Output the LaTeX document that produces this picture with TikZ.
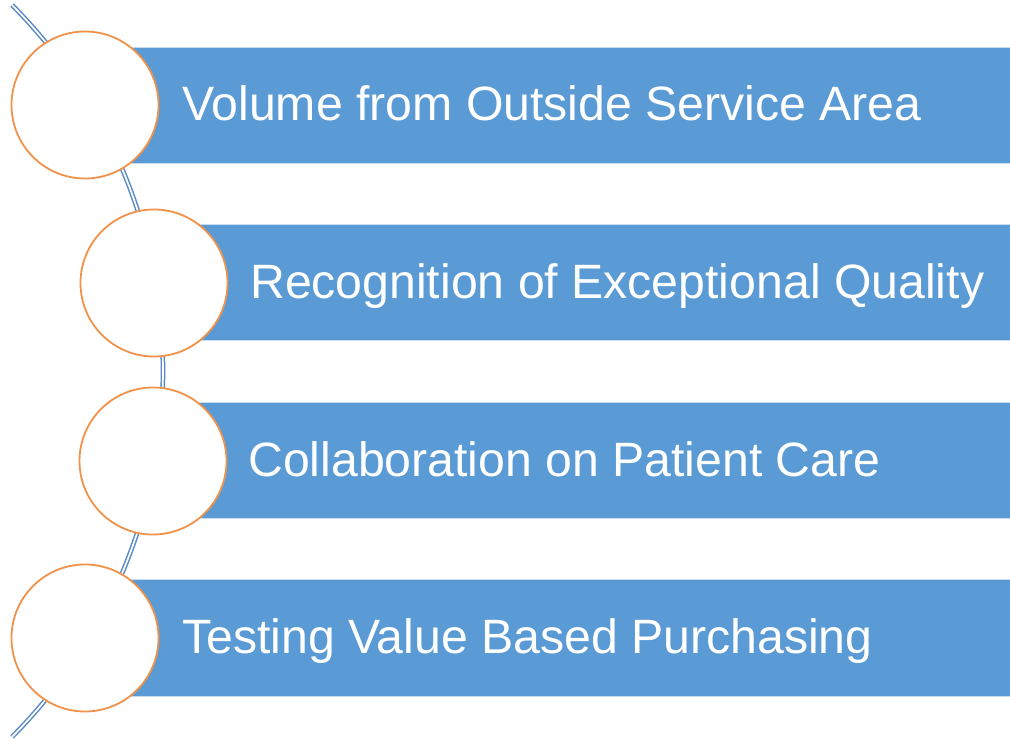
\documentclass[tikz,border=0pt]{standalone}
\usepackage{fontspec}
\setmainfont{Liberation Sans}
\definecolor{barblue}{HTML}{5B9BD5}
\definecolor{linkblue}{HTML}{5A8AC6}
\definecolor{ringorange}{HTML}{F0924A}
\begin{document}
\begin{tikzpicture}[x=1pt,y=-1pt,
  barbox/.style={fill=barblue, draw=barblue!35!white, line width=0.8pt},
  ring/.style={circle, draw=ringorange, line width=1.8pt, fill=white, minimum size=147pt, inner sep=0pt},
  label/.style={anchor=base west, text=white, inner sep=0pt, font=\fontsize{48.2}{58}\selectfont},
  link/.style={draw=linkblue, line width=1.5pt, double=white, double distance=1.7pt}
]
\useasboundingbox[fill=white] (0,0) rectangle (1010,739);

% the curved spine behind the circles
\coordinate (spinetop) at (12,5);
\draw[link] (spinetop) arc[start angle=44.84, end angle=-44.84, radius=519pt];

% horizontal bands
\path[barbox] (85,47) rectangle (1012,163);
\path[barbox] (154,224) rectangle (1012,340);
\path[barbox] (153,402) rectangle (1012,518);
\path[barbox] (85,579) rectangle (1012,696);

% circles along the spine
\node[ring] (c1) at (85,105) {};
\node[ring] (c2) at (154,283) {};
\node[ring] (c3) at (153,461) {};
\node[ring] (c4) at (85,638) {};

% band captions
\node[label] (t1) at (182,120) {Volume from Outside Service Area};
\node[label] (t2) at (250,298) {Recognition of Exceptional Quality};
\node[label] (t3) at (248,476) {Collaboration on Patient Care};
\node[label] (t4) at (182,653) {Testing Value Based Purchasing};
\end{tikzpicture}
\end{document}
